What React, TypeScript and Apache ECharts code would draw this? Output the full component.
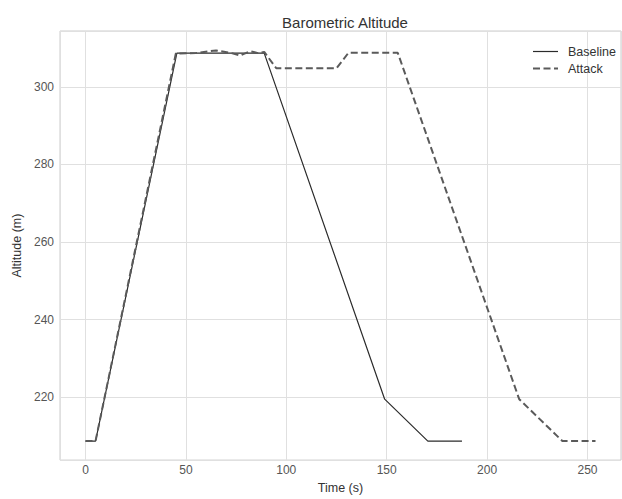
import React, { useEffect, useRef } from "react";
import * as echarts from "echarts";

const baselineTime = [0, 5, 45.5, 89, 149, 170.5, 187.5];
const baselineAlt = [208.7, 208.7, 308.7, 308.7, 219.5, 208.7, 208.7];

const attackTime = [0, 5, 45, 55, 65, 72, 77, 82, 86, 89, 95, 125, 131, 155.5, 216, 237.5, 254];
const attackAlt = [208.7, 208.7, 308.6, 308.7, 309.4, 308.8, 308.1, 309.2, 308.7, 309.0, 304.8, 304.8, 308.8, 308.8, 219.5, 208.7, 208.7];

const xTicks = [0, 50, 100, 150, 200, 250];
const yTicks = [220, 240, 260, 280, 300];

const FONT = "'Liberation Sans', Arial, sans-serif";

export default function App() {
  const ref = useRef<HTMLDivElement>(null);
  useEffect(() => {
    if (!ref.current) return;
    const chart = echarts.init(ref.current, null, { renderer: "svg" });
    const baseline = baselineTime.map((t, i) => [t, baselineAlt[i]]);
    const attack = attackTime.map((t, i) => [t, attackAlt[i]]);
    const xStep = xTicks[1] - xTicks[0];
    const yStep = yTicks[1] - yTicks[0];
    chart.setOption({
      animation: false,
      backgroundColor: "#ffffff",
      title: {
        text: "Barometric Altitude",
        left: 340,
        textAlign: "center",
        top: 10,
        textStyle: { fontFamily: FONT, fontSize: 15, fontWeight: "normal", color: "#333333" },
      },
      legend: {
        orient: "vertical",
        left: 527,
        top: 40,
        itemWidth: 25,
        itemHeight: 14,
        itemGap: 4,
        itemStyle: { opacity: 0, borderWidth: 0 },
        lineStyle: { width: "inherit" },
        data: ["Baseline", "Attack"],
        textStyle: { fontFamily: FONT, fontSize: 12.5, color: "#333333", padding: [0, 0, 0, 5] },
      },
      grid: {
        left: 60,
        right: 1,
        top: 31,
        bottom: 33,
        show: true,
        borderColor: "#cccccc",
        borderWidth: 1,
        backgroundColor: "transparent",
      },
      xAxis: {
        type: "value",
        min: -12.7,
        max: 266.7,
        minInterval: xStep,
        maxInterval: xStep,
        name: "Time (s)",
        nameLocation: "middle",
        nameGap: 20,
        nameTextStyle: { fontFamily: FONT, fontSize: 12.5, color: "#333333" },
        axisLine: { show: false },
        axisTick: { show: false },
        axisLabel: {
          fontFamily: FONT,
          fontSize: 12,
          color: "#555555",
          margin: 4,
          showMinLabel: false,
          showMaxLabel: false,
        },
        splitLine: { show: true, lineStyle: { color: "#e0e0e0", width: 1 } },
      },
      yAxis: {
        type: "value",
        min: 203.8,
        max: 314.4,
        minInterval: yStep,
        maxInterval: yStep,
        name: "Altitude (m)",
        nameLocation: "middle",
        nameGap: 25,
        nameTextStyle: { fontFamily: FONT, fontSize: 12.5, color: "#333333" },
        axisLine: { show: false },
        axisTick: { show: false },
        axisLabel: {
          fontFamily: FONT,
          fontSize: 12,
          color: "#555555",
          margin: 6,
          showMinLabel: false,
          showMaxLabel: false,
        },
        splitLine: { show: true, lineStyle: { color: "#e0e0e0", width: 1 } },
      },
      series: [
        {
          name: "Baseline",
          type: "line",
          data: baseline,
          showSymbol: false,
          symbol: "none",
          lineStyle: { color: "#2b2b2b", width: 1.2 },
          itemStyle: { color: "#2b2b2b" },
          z: 2,
        },
        {
          name: "Attack",
          type: "line",
          data: attack,
          showSymbol: false,
          symbol: "none",
          lineStyle: { color: "#5a5a5a", width: 2, type: [7, 3.5] },
          itemStyle: { color: "#5a5a5a" },
          z: 3,
        },
      ],
    });
    return () => chart.dispose();
  }, []);
  return <div ref={ref} style={{ width: 622, height: 499, position: "absolute", left: 0, top: 0 }} />;
}
